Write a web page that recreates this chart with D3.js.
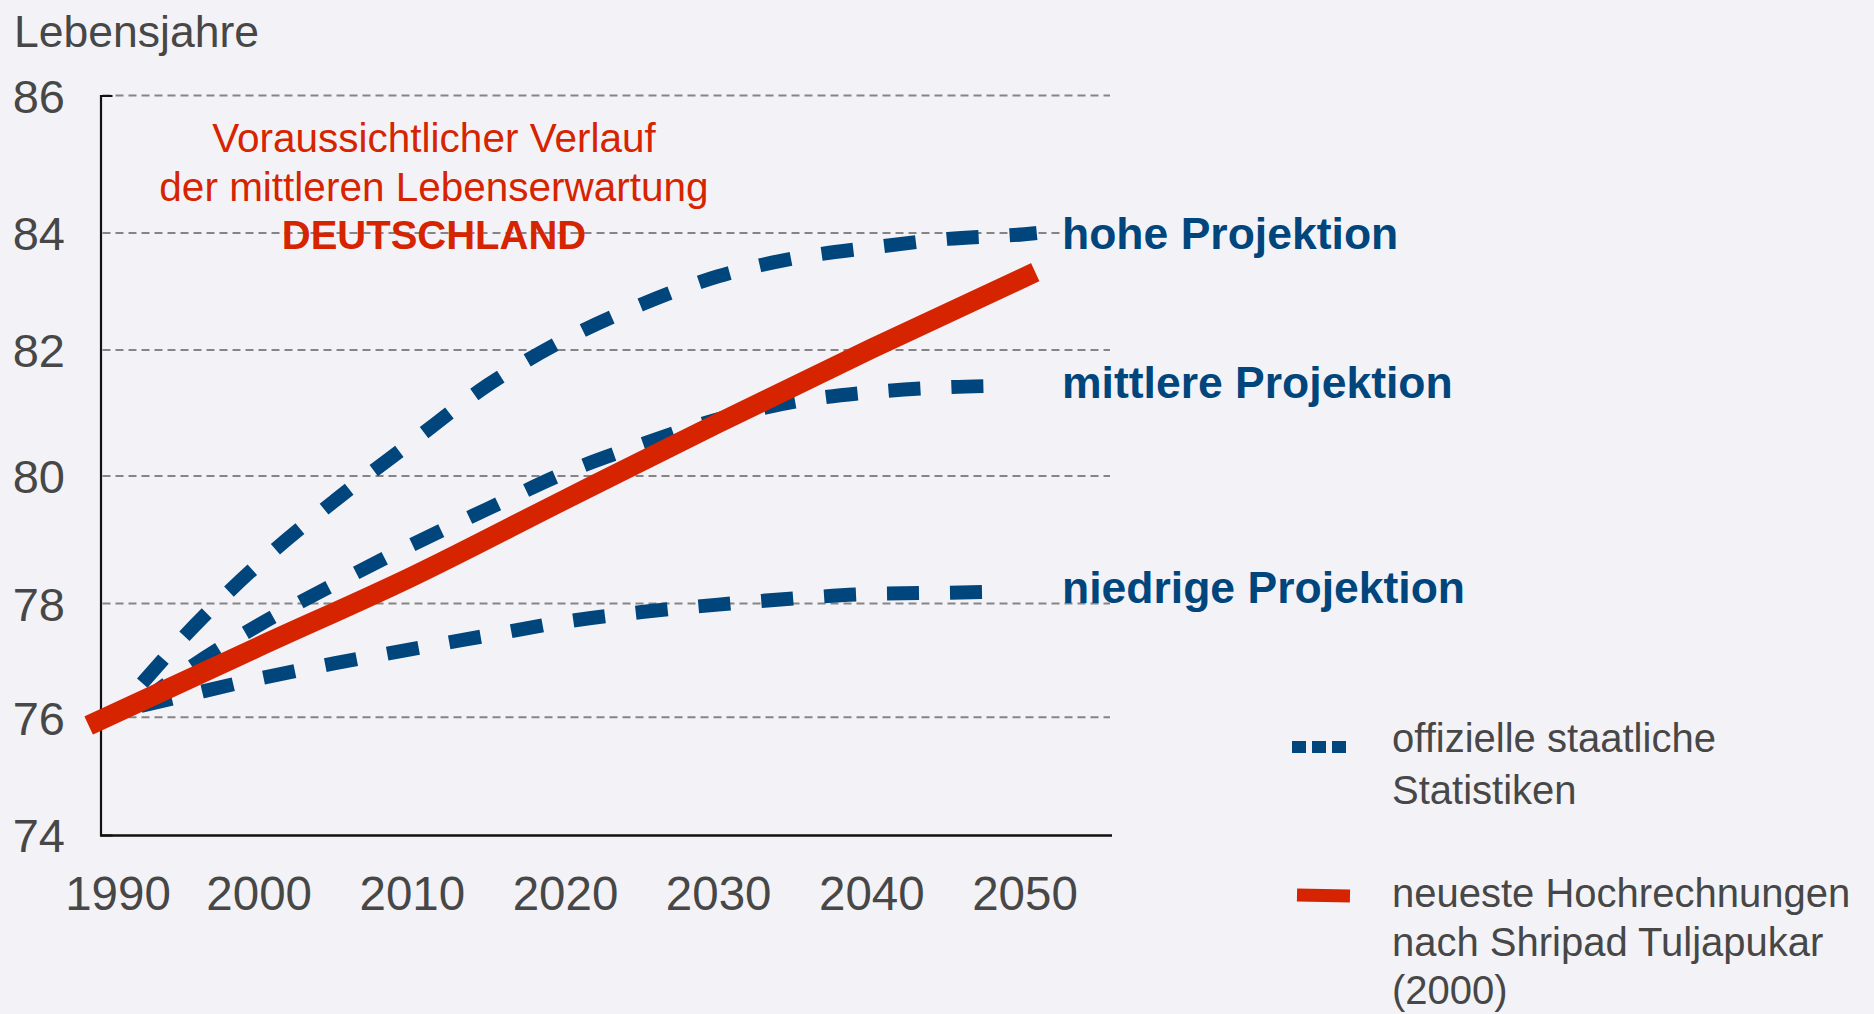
<!DOCTYPE html>
<html>
<head>
<meta charset="utf-8">
<script src="https://cdn.jsdelivr.net/npm/d3@7"></script>
<style>
  html, body { margin: 0; padding: 0; background: #f3f3f7; }
  svg { display: block; }
  text { font-family: "Liberation Sans", Arial, sans-serif; }
</style>
</head>
<body>
<svg id="chart" width="1874" height="1014"></svg>
<script>
// ---------- data ----------
const yTicks = [74, 76, 78, 80, 82, 84, 86];
const xTicks = [1990, 2000, 2010, 2020, 2030, 2040, 2050];

const redYears  = [1988.9, 2000, 2010, 2020, 2030, 2040, 2050.7];
const redValues = [75.86, 77.24, 78.42, 79.63, 80.84, 82.02, 83.33];

const hoheYears  = [1992.4, 1995, 2000, 2005, 2010, 2015, 2020, 2025, 2030, 2035, 2040, 2045, 2050, 2050.8];
const hoheValues = [76.6, 77.38, 78.62, 79.62, 80.54, 81.45, 82.18, 82.78, 83.26, 83.57, 83.75, 83.9, 83.98, 84.0];

const mittlereYears  = [1992.3, 1995, 2000, 2005, 2010, 2015, 2020, 2025, 2030, 2035, 2040, 2045, 2048];
const mittlereValues = [76.25, 76.78, 77.62, 78.31, 78.92, 79.49, 80.05, 80.5, 80.9, 81.18, 81.33, 81.41, 81.43];

const niedrigeYears  = [1992.3, 1995, 2000, 2005, 2010, 2015, 2020, 2025, 2030, 2035, 2040, 2045, 2047.4];
const niedrigeValues = [76.2, 76.37, 76.68, 76.95, 77.2, 77.44, 77.68, 77.85, 77.98, 78.08, 78.15, 78.17, 78.18];

const projLabels = ["hohe Projektion", "mittlere Projektion", "niedrige Projektion"];
const titleLines = ["Voraussichtlicher Verlauf", "der mittleren Lebenserwartung", "DEUTSCHLAND"];
const yTitle = "Lebensjahre";
const legendBlue = ["offizielle staatliche", "Statistiken"];
const legendRed = ["neueste Hochrechnungen", "nach Shripad Tuljapukar", "(2000)"];

// ---------- layout ----------
const BLUE = "#00467d", RED = "#d72400", GREY = "#474747", BG = "#f3f3f7";
const svg = d3.select("#chart");
svg.append("rect").attr("width", 1874).attr("height", 1014).attr("fill", BG);

const x = d3.scaleLinear().domain([1990, 2050]).range([105.5, 1024.5]);
// the original grid is drawn with slightly uneven spacing
const y = d3.scaleLinear().domain(yTicks).range([835, 717.3, 603.5, 476, 350, 233, 95.5]);

const axisX = 100.5, plotRight = 1112;

// gridlines
svg.append("g").selectAll("line").data(yTicks.filter(t => t !== 74)).join("line")
  .attr("x1", axisX + 2).attr("x2", 1110)
  .attr("y1", d => y(d)).attr("y2", d => y(d))
  .attr("stroke", "#858585").attr("stroke-width", 2)
  .attr("stroke-dasharray", "8 5");

// y axis line with end hooks
const yAxisLine = svg.append("g").attr("transform", `translate(${axisX},0)`)
  .call(d3.axisRight(y).tickValues([]).tickSizeOuter(12));
yAxisLine.select(".domain").attr("stroke", "#111").attr("stroke-width", 2.2);

// y tick labels
const yLab = svg.append("g").attr("transform", "translate(65,0)")
  .call(d3.axisLeft(y).tickValues(yTicks).tickSize(0).tickPadding(0).tickFormat(d3.format("d")));
yLab.select(".domain").remove();
yLab.selectAll("text").attr("x", 0).attr("dy", "0.36em")
  .attr("font-size", 47).attr("fill", GREY)
  .attr("font-family", "'Liberation Sans', Arial, sans-serif");

// x axis line
svg.append("line").attr("x1", axisX).attr("x2", plotRight)
  .attr("y1", y(74) + 0.5).attr("y2", y(74) + 0.5)
  .attr("stroke", "#111").attr("stroke-width", 2.6);

// x tick labels
const xLab = svg.append("g").attr("transform", `translate(0,${y(74)})`)
  .call(d3.axisBottom(x).tickValues(xTicks).tickSize(0).tickFormat(d3.format("d")));
xLab.select(".domain").remove();
xLab.selectAll("text").attr("y", 75).attr("dy", null)
  .attr("dx", d => d === 1990 ? 12 : 0)
  .attr("font-size", 47.5).attr("fill", GREY)
  .attr("font-family", "'Liberation Sans', Arial, sans-serif");

// y title
svg.append("text").attr("x", 14).attr("y", 47).text(yTitle)
  .attr("font-size", 44.5).attr("fill", GREY);

// red title
svg.append("g").selectAll("text").data(titleLines).join("text")
  .attr("x", 434).attr("y", (d, i) => 152 + i * 48.7)
  .attr("text-anchor", "middle")
  .attr("font-size", (d, i) => i === 2 ? 40 : 40.5)
  .attr("font-weight", (d, i) => i === 2 ? "bold" : "normal")
  .attr("fill", RED).text(d => d);

// projection lines
const line = d3.line().x(d => x(d[0])).y(d => y(d[1])).curve(d3.curveMonotoneX);
const proj = [
  d3.zip(hoheYears, hoheValues),
  d3.zip(mittlereYears, mittlereValues),
  d3.zip(niedrigeYears, niedrigeValues)
];
svg.append("g").selectAll("path").data(proj).join("path")
  .attr("d", line).attr("fill", "none")
  .attr("stroke", BLUE).attr("stroke-width", 14)
  .attr("stroke-dasharray", "32 31");

// red line
svg.append("path").datum(d3.zip(redYears, redValues))
  .attr("d", line).attr("fill", "none")
  .attr("stroke", RED).attr("stroke-width", 20);

// projection labels
const labelY = [249, 398, 603];
svg.append("g").selectAll("text").data(projLabels).join("text")
  .attr("x", 1062).attr("y", (d, i) => labelY[i])
  .attr("font-size", 44.5).attr("font-weight", "bold")
  .attr("fill", BLUE)
  .attr("stroke", (d, i) => i === 0 ? BG : "none").attr("stroke-width", 8)
  .attr("paint-order", "stroke")
  .text(d => d);

// legend
svg.append("line").attr("x1", 1292).attr("x2", 1346).attr("y1", 747).attr("y2", 747)
  .attr("stroke", BLUE).attr("stroke-width", 12).attr("stroke-dasharray", "14 6");
svg.append("line").attr("x1", 1297).attr("x2", 1350).attr("y1", 895).attr("y2", 896)
  .attr("stroke", RED).attr("stroke-width", 13);

svg.append("g").selectAll("text").data(legendBlue).join("text")
  .attr("x", 1392).attr("y", (d, i) => 752 + i * 52)
  .attr("font-size", 40).attr("fill", GREY).text(d => d);
svg.append("g").selectAll("text").data(legendRed).join("text")
  .attr("x", 1392).attr("y", (d, i) => 907 + i * 48.5)
  .attr("font-size", 40).attr("fill", GREY).text(d => d);
</script>
</body>
</html>
